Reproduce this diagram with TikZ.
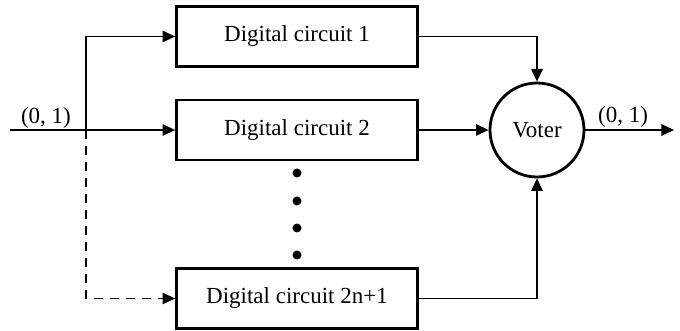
\documentclass[tikz,border=0pt]{standalone}
\usepackage{fontspec}
\setmainfont{Liberation Serif}
\usetikzlibrary{arrows.meta}
\begin{document}
\begin{tikzpicture}[x=0.5pt,y=-0.5pt,
  every node/.style={font=\fontsize{11.5}{13}\selectfont},
  circuitbox/.style={draw, line width=1.4pt, minimum width=120.5pt, minimum height=30pt, inner sep=0pt},
  voterbox/.style={draw, circle, line width=1.4pt, minimum size=47pt, inner sep=0pt},
  wire/.style={line width=0.6pt, -{Triangle[length=6.3pt,width=5.8pt]}},
  dotmark/.style={fill, circle, minimum size=4.5pt, inner sep=0pt}]
  \useasboundingbox (0,0) rectangle (680,331);

  % circuit copies and the voter
  \node[circuitbox] (c1) at (297,36.5) {Digital circuit 1};
  \node[circuitbox] (c2) at (297,130) {Digital circuit 2};
  \node[circuitbox] (c3) at (297,298.5) {Digital circuit 2n+1};
  \node[voterbox] (v) at (537,130) {Voter};

  % elided copies
  \node[dotmark] (d1) at (297,173) {};
  \node[dotmark] (d2) at (297,201) {};
  \node[dotmark] (d3) at (297,228) {};
  \node[dotmark] (d4) at (297,255) {};

  % input fan-out
  \coordinate (in) at (10,130);
  \coordinate (split) at (86,130);
  \node (lin) at (46,118) {(0, 1)};
  \draw[wire] (in) -- (c2.west);
  \draw[wire] (split) |- (c1.west);
  \draw[wire, dash pattern=on 4.5pt off 3.5pt] (split) |- (c3.west);

  % outputs into the voter
  \draw[wire] (c1.east) -| (v.north);
  \draw[wire] (c2.east) -- (v.west);
  \draw[wire] (c3.east) -| (v.south);

  % voter output
  \coordinate (out) at (674,130);
  \node (lout) at (623,117) {(0, 1)};
  \draw[wire] (v.east) -- (out);
\end{tikzpicture}
\end{document}
